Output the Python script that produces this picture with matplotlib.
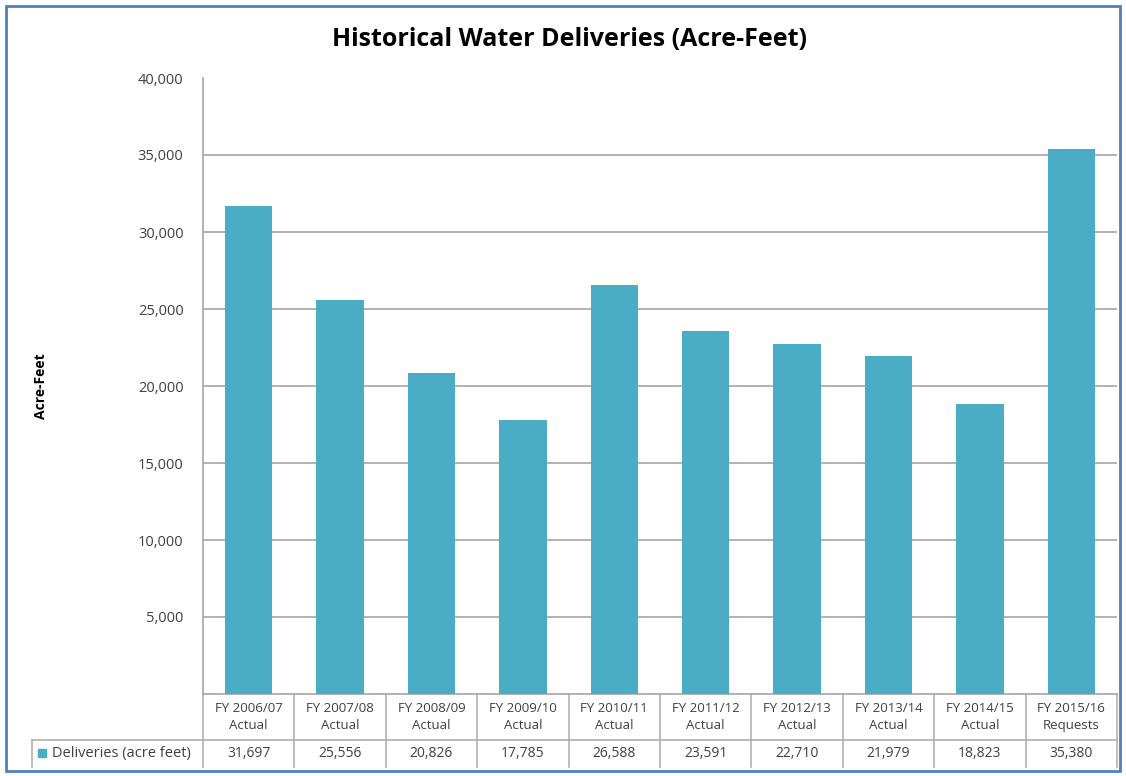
import matplotlib
matplotlib.use("Agg")
import matplotlib.pyplot as plt
from matplotlib.patches import Rectangle
from matplotlib.lines import Line2D
import matplotlib.transforms as mtransforms

categories = ["FY 2006/07\nActual", "FY 2007/08\nActual", "FY 2008/09\nActual", "FY 2009/10\nActual",
              "FY 2010/11\nActual", "FY 2011/12\nActual", "FY 2012/13\nActual", "FY 2013/14\nActual",
              "FY 2014/15\nActual", "FY 2015/16\nRequests"]
deliveries = [31697, 25556, 20826, 17785, 26588, 23591, 22710, 21979, 18823, 35380]
series_name = "Deliveries (acre feet)"
yticks = [5000, 10000, 15000, 20000, 25000, 30000, 35000, 40000]

W, H = 1126, 776
fig = plt.figure(figsize=(W / 100, H / 100), dpi=100)
plt.rcParams['font.family'] = ['Open Sans', 'DejaVu Sans']

bar_color = "#4BACC6"
grid_color = "#A6A6A6"
text_color = "#404040"

ax_l, ax_r, ax_t, ax_b = 203, 1117, 78, 694
ax = fig.add_axes([ax_l / W, 1 - ax_b / H, (ax_r - ax_l) / W, (ax_b - ax_t) / H])

x = list(range(len(categories)))
ax.bar(x, deliveries, width=0.52, color=bar_color, zorder=3)
ax.set_xlim(-0.5, len(categories) - 0.5)
ax.set_ylim(0, 40000)
ax.set_yticks(yticks)
ax.set_yticklabels([f"{v:,}" for v in yticks], fontsize=10.5, color=text_color)
ax.tick_params(axis='y', length=0, pad=14)
ax.set_xticks([])
for v in yticks[:-1]:
    ax.axhline(v, color=grid_color, lw=1.2, zorder=1)
for s in ["top", "right"]:
    ax.spines[s].set_visible(False)
ax.spines["left"].set_color(grid_color)
ax.spines["left"].set_linewidth(1.2)
ax.spines["bottom"].set_color(grid_color)
ax.spines["bottom"].set_linewidth(1.2)

ax.set_ylabel("Acre-Feet", fontsize=10, fontweight="bold", labelpad=0)
ax.yaxis.set_label_coords((48 - ax_l) / (ax_r - ax_l), 0.5)

# data table below the axes
ah = ax_b - ax_t
aw = ax_r - ax_l
row1 = -(740 - ax_b) / ah
row2 = -(767 - ax_b) / ah
trans = mtransforms.blended_transform_factory(ax.transData, ax.transAxes)
tcol = "#B0B0B0"
for i in range(len(categories) + 1):
    ax.add_line(Line2D([i - 0.5, i - 0.5], [0, row2], transform=trans, color=tcol, lw=1.2, clip_on=False))
leg_left = (32 - ax_l) / aw
ax.add_line(Line2D([leg_left, 1], [row1, row1], transform=ax.transAxes, color=tcol, lw=1.2, clip_on=False))
ax.add_line(Line2D([leg_left, leg_left], [row1, row2], transform=ax.transAxes, color=tcol, lw=1.2, clip_on=False))

for i, (c, v) in enumerate(zip(categories, deliveries)):
    ax.text(i, row1 / 2, c, transform=trans, ha="center", va="center", fontsize=9.5,
            color=text_color, linespacing=1.35, clip_on=False)
    ax.text(i, (row1 + row2) / 2, f"{v:,}", transform=trans, ha="center", va="center",
            fontsize=10, color=text_color, clip_on=False)

ax.add_patch(Rectangle(((38 - ax_l) / aw, -(757 - ax_b) / ah), 8 / aw, 8 / ah,
                       transform=ax.transAxes, color=bar_color, clip_on=False))
ax.text((52 - ax_l) / aw, (row1 + row2) / 2, series_name, transform=ax.transAxes,
        ha="left", va="center", fontsize=10.5, color=text_color, clip_on=False)

fig.text(570 / W, 1 - 40 / H, "Historical Water Deliveries (Acre-Feet)", ha="center", va="center",
         fontsize=18, fontweight="bold", color="black")

fig.patches.append(Rectangle((6 / W, 1 - 771 / H), (1120 - 6) / W, (771 - 6) / H,
                             transform=fig.transFigure, fill=False, edgecolor="#4F81BD", lw=2))

fig.savefig("out.png", dpi=100)
